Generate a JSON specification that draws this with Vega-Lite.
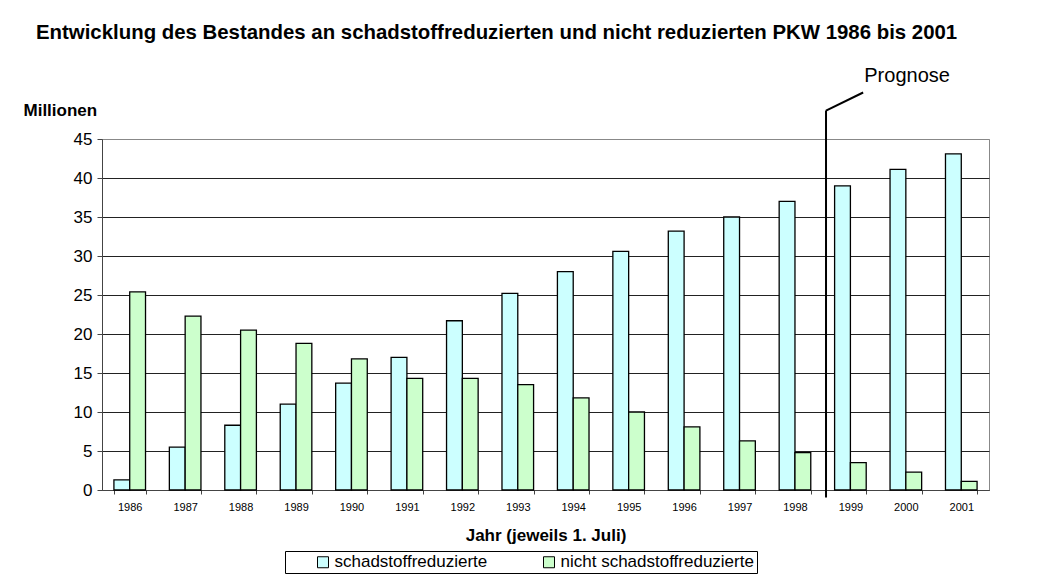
{
  "$schema": "https://vega.github.io/schema/vega-lite/v6.json",
  "width": 887,
  "height": 351,
  "autosize": {"type": "none"},
  "padding": {"left": 102, "top": 139, "right": 55, "bottom": 85},
  "background": "white",
  "config": {
    "font": "Liberation Sans",
    "view": {"stroke": "#888888", "strokeWidth": 1}
  },
  "title": {
    "text": "Entwicklung des Bestandes an schadstoffreduzierten und nicht reduzierten PKW 1986 bis 2001",
    "anchor": "start",
    "frame": "group",
    "font": "Liberation Sans",
    "fontSize": 20.4,
    "fontWeight": "bold",
    "color": "#000000",
    "dx": -66,
    "dy": -18
  },
  "datasets": {
    "bars": [
      {"year": "1986", "series": "schadstoffreduzierte", "value": 1.3},
      {"year": "1986", "series": "nicht schadstoffreduzierte", "value": 25.4},
      {"year": "1987", "series": "schadstoffreduzierte", "value": 5.5},
      {"year": "1987", "series": "nicht schadstoffreduzierte", "value": 22.3},
      {"year": "1988", "series": "schadstoffreduzierte", "value": 8.3},
      {"year": "1988", "series": "nicht schadstoffreduzierte", "value": 20.5},
      {"year": "1989", "series": "schadstoffreduzierte", "value": 11.0},
      {"year": "1989", "series": "nicht schadstoffreduzierte", "value": 18.8},
      {"year": "1990", "series": "schadstoffreduzierte", "value": 13.7},
      {"year": "1990", "series": "nicht schadstoffreduzierte", "value": 16.8},
      {"year": "1991", "series": "schadstoffreduzierte", "value": 17.0},
      {"year": "1991", "series": "nicht schadstoffreduzierte", "value": 14.3},
      {"year": "1992", "series": "schadstoffreduzierte", "value": 21.7},
      {"year": "1992", "series": "nicht schadstoffreduzierte", "value": 14.3},
      {"year": "1993", "series": "schadstoffreduzierte", "value": 25.2},
      {"year": "1993", "series": "nicht schadstoffreduzierte", "value": 13.5},
      {"year": "1994", "series": "schadstoffreduzierte", "value": 28.0},
      {"year": "1994", "series": "nicht schadstoffreduzierte", "value": 11.8},
      {"year": "1995", "series": "schadstoffreduzierte", "value": 30.6},
      {"year": "1995", "series": "nicht schadstoffreduzierte", "value": 10.0},
      {"year": "1996", "series": "schadstoffreduzierte", "value": 33.2},
      {"year": "1996", "series": "nicht schadstoffreduzierte", "value": 8.1},
      {"year": "1997", "series": "schadstoffreduzierte", "value": 35.0},
      {"year": "1997", "series": "nicht schadstoffreduzierte", "value": 6.3},
      {"year": "1998", "series": "schadstoffreduzierte", "value": 37.0},
      {"year": "1998", "series": "nicht schadstoffreduzierte", "value": 4.8},
      {"year": "1999", "series": "schadstoffreduzierte", "value": 39.0},
      {"year": "1999", "series": "nicht schadstoffreduzierte", "value": 3.5},
      {"year": "2000", "series": "schadstoffreduzierte", "value": 41.1},
      {"year": "2000", "series": "nicht schadstoffreduzierte", "value": 2.3},
      {"year": "2001", "series": "schadstoffreduzierte", "value": 43.1},
      {"year": "2001", "series": "nicht schadstoffreduzierte", "value": 1.1}
    ],
    "prognoseLines": [
      {"x": 13.06, "value": 48.65, "x2": 13.06, "value2": -0.96},
      {"x": 13.06, "value": 48.65, "x2": 13.73, "value2": 50.96}
    ],
    "prognoseText": [
      {"x": 13.75, "value": 53.1, "label": "Prognose"}
    ]
  },
  "encoding": {
    "y": {
      "field": "value",
      "type": "quantitative",
      "scale": {"domain": [0, 45], "nice": false, "zero": false},
      "axis": {
        "values": [0, 5, 10, 15, 20, 25, 30, 35, 40, 45],
        "labelOverlap": false,
        "title": "Millionen",
        "titleAngle": 0,
        "titleAlign": "left",
        "titleBaseline": "alphabetic",
        "titleX": -79,
        "titleY": -24,
        "titleFont": "Liberation Sans",
        "titleFontSize": 17,
        "titleFontWeight": "bold",
        "titleColor": "#000000",
        "labelFontSize": 17,
        "labelColor": "#000000",
        "labelPadding": 5,
        "tickSize": 5,
        "tickColor": "#444444",
        "domainColor": "#444444",
        "grid": true,
        "gridColor": {"condition": {"test": "datum.value == 45", "value": "#888888"}, "value": "#222222"},
        "gridWidth": 1
      }
    }
  },
  "layer": [
    {
      "data": {"name": "bars"},
      "mark": {"type": "bar", "stroke": "#000000", "strokeWidth": 1.3},
      "encoding": {
        "x": {
          "field": "year",
          "type": "ordinal",
          "scale": {"paddingInner": 0.43, "paddingOuter": 0.215},
          "axis": {
            "title": "Jahr (jeweils 1. Juli)",
            "titleFont": "Liberation Sans",
            "titleFontSize": 17,
            "titleFontWeight": "bold",
            "titleColor": "#000000",
            "titlePadding": 15,
            "labelAngle": 0,
            "labelFontSize": 11,
            "labelColor": "#000000",
            "labelPadding": 7,
            "tickBand": "extent",
            "tickSize": 4,
            "tickColor": "#444444",
            "domainColor": "#444444",
            "grid": false
          }
        },
        "xOffset": {
          "field": "series",
          "sort": ["schadstoffreduzierte", "nicht schadstoffreduzierte"],
          "scale": {"paddingInner": 0, "paddingOuter": 0}
        },
        "color": {
          "field": "series",
          "type": "nominal",
          "scale": {
            "domain": ["schadstoffreduzierte", "nicht schadstoffreduzierte"],
            "range": ["#CCFFFF", "#CCFFCC"]
          },
          "legend": {
            "title": null,
            "orient": "none",
            "direction": "horizontal",
            "legendX": 183,
            "legendY": 412,
            "strokeColor": "#000000",
            "fillColor": "#FFFFFF",
            "padding": 2.5,
            "symbolType": "square",
            "symbolSize": 121,
            "symbolStrokeColor": "#000000",
            "symbolStrokeWidth": 1,
            "symbolOffset": 27,
            "labelFontSize": 17,
            "labelColor": "#000000",
            "labelOffset": 3,
            "columnPadding": 26,
            "labelLimit": 400
          }
        }
      }
    },
    {
      "data": {"name": "prognoseLines"},
      "mark": {"type": "rule", "color": "#000000", "strokeWidth": 2, "clip": false},
      "encoding": {
        "x": {"field": "x", "type": "quantitative", "scale": {"domain": [0, 16], "nice": false, "zero": false}, "axis": null},
        "x2": {"field": "x2"},
        "y2": {"field": "value2"}
      }
    },
    {
      "data": {"name": "prognoseText"},
      "mark": {"type": "text", "align": "left", "baseline": "middle", "fontSize": 20, "font": "Liberation Sans", "color": "#000000", "clip": false},
      "encoding": {
        "x": {"field": "x", "type": "quantitative", "scale": {"domain": [0, 16], "nice": false, "zero": false}, "axis": null},
        "text": {"field": "label"}
      }
    }
  ],
  "resolve": {"scale": {"x": "independent"}, "axis": {"x": "independent"}}
}
